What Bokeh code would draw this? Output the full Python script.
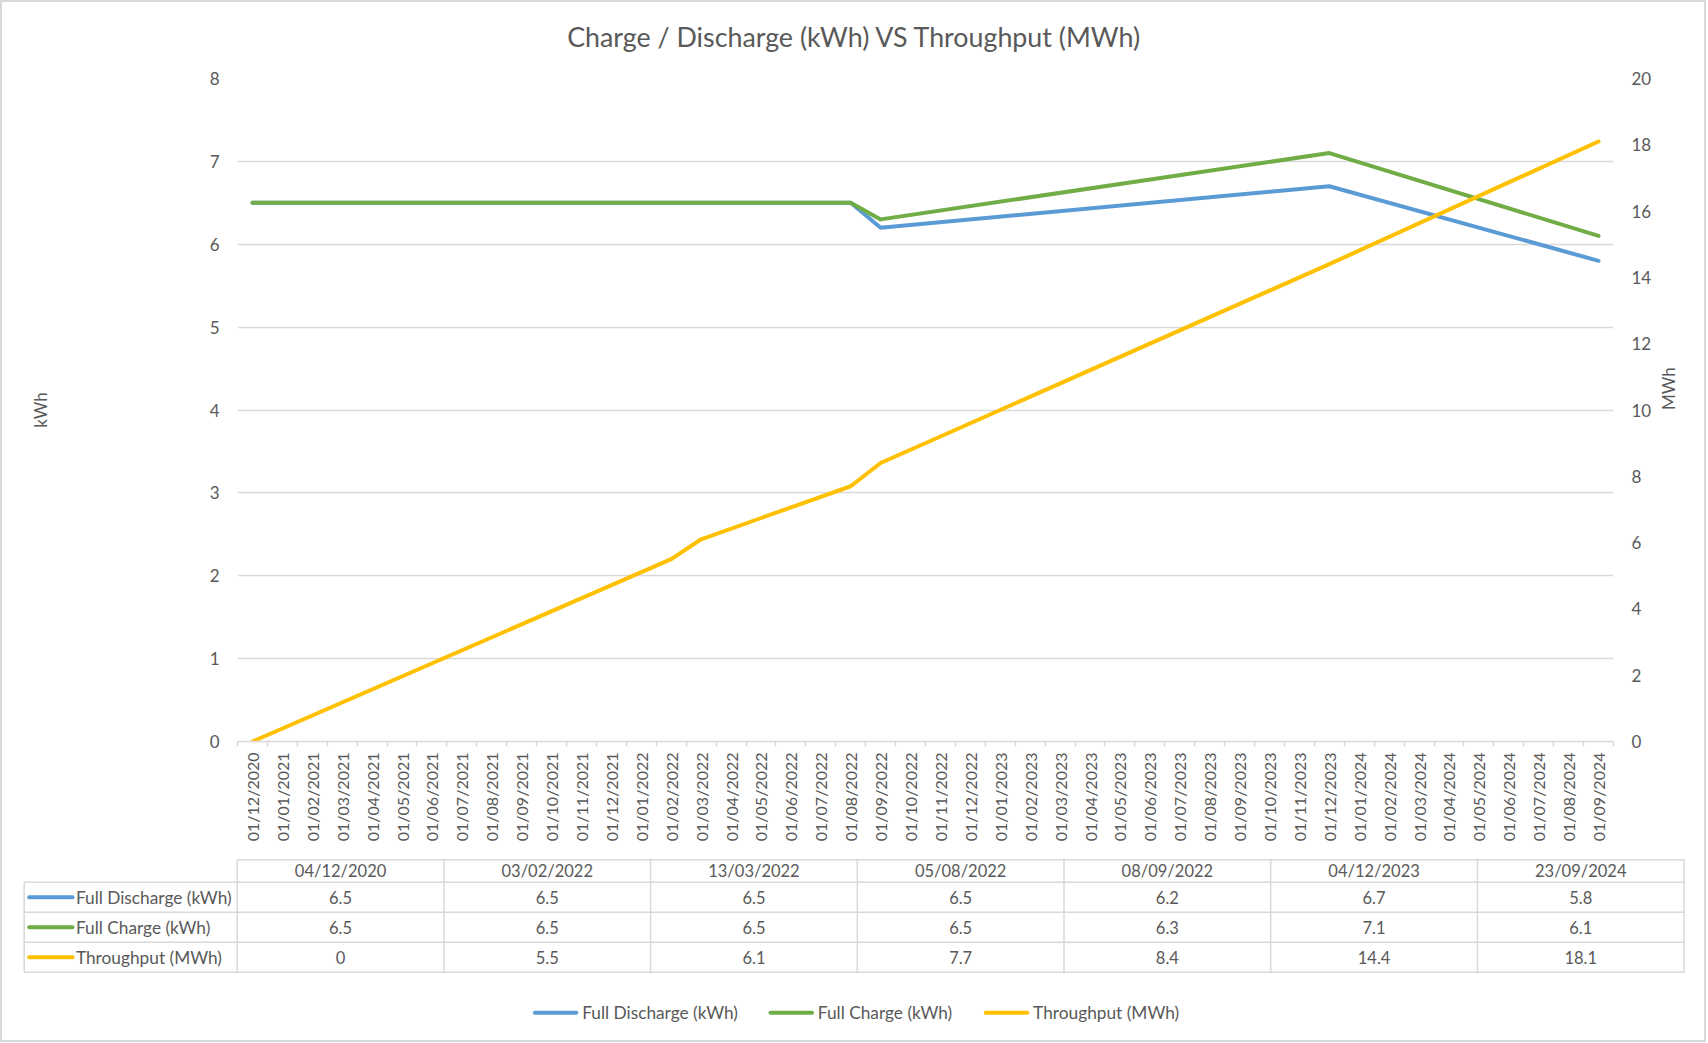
import math
from bokeh.plotting import figure
from bokeh.models import Range1d, LinearAxis, FixedTicker
from bokeh.layouts import column
from bokeh.core.properties import value
from bokeh.embed import file_html
from bokeh.resources import INLINE

# ---------------- data ----------------
TITLE = "Charge / Discharge (kWh) VS Throughput (MWh)"
dates = ["04/12/2020", "03/02/2022", "13/03/2022", "05/08/2022",
         "08/09/2022", "04/12/2023", "23/09/2024"]
full_discharge = [6.5, 6.5, 6.5, 6.5, 6.2, 6.7, 5.8]
full_charge = [6.5, 6.5, 6.5, 6.5, 6.3, 7.1, 6.1]
throughput = [0, 5.5, 6.1, 7.7, 8.4, 14.4, 18.1]
series_names = ["Full Discharge (kWh)", "Full Charge (kWh)", "Throughput (MWh)"]
series_colors = ["#5B9BD5", "#70AD47", "#FFC000"]
month_labels = [
    "01/12/2020",
    "01/01/2021", "01/02/2021", "01/03/2021", "01/04/2021", "01/05/2021", "01/06/2021",
    "01/07/2021", "01/08/2021", "01/09/2021", "01/10/2021", "01/11/2021", "01/12/2021",
    "01/01/2022", "01/02/2022", "01/03/2022", "01/04/2022", "01/05/2022", "01/06/2022",
    "01/07/2022", "01/08/2022", "01/09/2022", "01/10/2022", "01/11/2022", "01/12/2022",
    "01/01/2023", "01/02/2023", "01/03/2023", "01/04/2023", "01/05/2023", "01/06/2023",
    "01/07/2023", "01/08/2023", "01/09/2023", "01/10/2023", "01/11/2023", "01/12/2023",
    "01/01/2024", "01/02/2024", "01/03/2024", "01/04/2024", "01/05/2024", "01/06/2024",
    "01/07/2024", "01/08/2024", "01/09/2024",
]
kwh_ticks = [0, 1, 2, 3, 4, 5, 6, 7, 8]
mwh_ticks = [0, 2, 4, 6, 8, 10, 12, 14, 16, 18, 20]

# ---------------- style ----------------
FONT = "Lato"
TEXT = "#595959"
GRID = "#D9D9D9"
W = 1702
FS_AX = "17px"
FS_NUM = "16.5px"
FS_NAME = "17.3px"


def no_align(f):
    try:
        f.frame_align = False
    except Exception:
        pass


def blank(width, height):
    f = figure(width=width, height=height, x_range=Range1d(0, width), y_range=Range1d(height, 0),
               min_border=0, toolbar_location=None, output_backend="svg",
               x_axis_location=None, y_axis_location=None, outline_line_color=None)
    f.grid.visible = False
    no_align(f)
    return f


# each date is plotted on its month category (centre of the category)
n = len(month_labels)
xpos = [month_labels.index("01/" + d[3:]) + 0.5 for d in dates]

# ---------------- title strip ----------------
H0 = 56
t = blank(W, H0)
t.text(x=[852], y=[34], text=[TITLE], text_font=value(FONT), text_font_size="26.8px",
       text_color=TEXT, text_align="center", text_baseline="middle")

# ---------------- main chart ----------------
p = figure(width=W, height=792, x_range=Range1d(0, n), y_range=Range1d(0, 8),
           min_border_left=235, min_border_right=91, min_border_top=20, min_border_bottom=109,
           toolbar_location=None, output_backend="svg",
           x_axis_location=None, y_axis_location=None, outline_line_color=None)
no_align(p)
p.extra_y_ranges = {"mwh": Range1d(0, 20)}

xaxis = LinearAxis(
    ticker=FixedTicker(ticks=[i + 0.5 for i in range(n)], minor_ticks=list(range(n + 1))),
    major_label_overrides={i + 0.5: lab for i, lab in enumerate(month_labels)},
)
xaxis.major_label_orientation = math.pi / 2
xaxis.major_tick_line_color = None
xaxis.major_tick_out = 0
xaxis.major_tick_in = 0
xaxis.minor_tick_line_color = GRID
xaxis.minor_tick_line_width = 1.5
xaxis.minor_tick_out = 5
xaxis.minor_tick_in = 0
xaxis.axis_line_color = GRID
xaxis.axis_line_width = 1.5
xaxis.major_label_standoff = 6
xaxis.major_label_text_font = FONT
xaxis.major_label_text_font_size = "16px"
xaxis.major_label_text_color = TEXT
p.add_layout(xaxis, "below")

laxis = LinearAxis(ticker=FixedTicker(ticks=kwh_ticks, minor_ticks=[]), axis_label="kWh")
raxis = LinearAxis(ticker=FixedTicker(ticks=mwh_ticks, minor_ticks=[]), y_range_name="mwh",
                   axis_label="MWh")
for ax, so, lso in ((laxis, 18, 156), (raxis, 18, 14)):
    ax.axis_line_color = None
    ax.major_tick_line_color = None
    ax.minor_tick_line_color = None
    ax.major_tick_out = 0
    ax.major_tick_in = 0
    ax.major_label_standoff = so
    ax.major_label_text_font = FONT
    ax.major_label_text_font_size = FS_AX
    ax.major_label_text_color = TEXT
    ax.axis_label_text_font = FONT
    ax.axis_label_text_font_size = FS_AX
    ax.axis_label_text_font_style = "normal"
    ax.axis_label_text_color = TEXT
    ax.axis_label_standoff = lso
try:
    raxis.axis_label_orientation = math.pi / 2
except Exception:
    pass
p.add_layout(laxis, "left")
p.add_layout(raxis, "right")

p.xgrid.visible = False
p.ygrid.ticker = FixedTicker(ticks=kwh_ticks, minor_ticks=[])
p.ygrid.grid_line_color = GRID
p.ygrid.grid_line_width = 1.5

p.line(xpos, full_discharge, line_color=series_colors[0], line_width=4,
       line_cap="round", line_join="round")
p.line(xpos, full_charge, line_color=series_colors[1], line_width=4,
       line_cap="round", line_join="round")
p.line(xpos, throughput, line_color=series_colors[2], line_width=4,
       line_cap="round", line_join="round", y_range_name="mwh")

# ---------------- data table + legend ----------------
H2 = 190
q = blank(W, H2)

TX0 = 234.7          # table data columns start (aligned with plot area)
CW = 206.7           # column width
RX0 = 21.7           # row-header column start
HDR_TOP, HDR_BOT, RH = 9.3, 31.7, 30.0
ncol = len(dates)
rows = [full_discharge, full_charge, throughput]
nrow = len(rows)
bottom = HDR_BOT + nrow * RH

hx0 = [TX0] + [RX0] * (nrow + 1)
hx1 = [TX0 + ncol * CW] * (nrow + 2)
hy = [HDR_TOP] + [HDR_BOT + r * RH for r in range(nrow + 1)]
q.segment(x0=hx0, y0=hy, x1=hx1, y1=hy, line_color=GRID, line_width=1.5)
vx = [RX0] + [TX0 + c * CW for c in range(ncol + 1)]
vy0 = [HDR_BOT] + [HDR_TOP] * (ncol + 1)
q.segment(x0=vx, y0=vy0, x1=vx, y1=[bottom] * len(vx), line_color=GRID, line_width=1.5)

centers = [TX0 + (c + 0.5) * CW for c in range(ncol)]
q.text(x=centers, y=[(HDR_TOP + HDR_BOT) / 2] * ncol, text=dates, text_font=value(FONT),
       text_font_size=FS_NUM, text_color=TEXT, text_align="center", text_baseline="middle")
for r, vals in enumerate(rows):
    ym = HDR_BOT + (r + 0.5) * RH
    q.text(x=centers, y=[ym] * ncol, text=[f"{v:g}" for v in vals], text_font=value(FONT),
           text_font_size=FS_NUM, text_color=TEXT, text_align="center", text_baseline="middle")
    q.segment(x0=[RX0 + 5], y0=[ym], x1=[RX0 + 48.3], y1=[ym], line_color=series_colors[r],
              line_width=4, line_cap="round")
    q.text(x=[RX0 + 51.7], y=[ym], text=[series_names[r]], text_font=value(FONT),
           text_font_size=FS_NAME, text_color=TEXT, text_align="left", text_baseline="middle")

# legend
LY = 162.3
sw_x0 = [532.4, 768.0, 983.3]
for i in range(3):
    q.segment(x0=[sw_x0[i]], y0=[LY], x1=[sw_x0[i] + 41.5], y1=[LY], line_color=series_colors[i],
              line_width=4, line_cap="round")
    q.text(x=[sw_x0[i] + 47.3], y=[LY], text=[series_names[i]], text_font=value(FONT),
           text_font_size=FS_NAME, text_color=TEXT, text_align="left", text_baseline="middle")

layout = column(t, p, q, spacing=0, styles={"border": "2px solid #D9D9D9"})
open("out.html", "w").write(file_html(layout, INLINE))
